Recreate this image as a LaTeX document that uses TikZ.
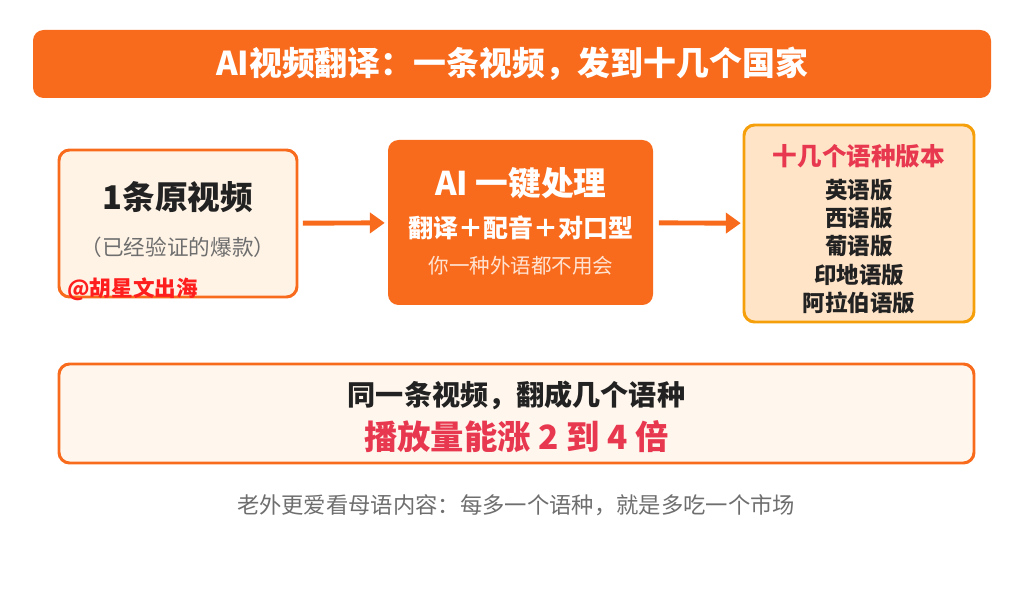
\documentclass[tikz,border=0pt]{standalone}
\usepackage{fontspec}
\setmainfont{Noto Sans CJK SC}
\usepackage{xcolor}
\usetikzlibrary{arrows.meta,positioning}
\definecolor{accent}{HTML}{F96B1C}
\definecolor{creamlight}{HTML}{FFF3E6}
\definecolor{creambottom}{HTML}{FFF7EE}
\definecolor{peach}{HTML}{FFE4C8}
\definecolor{amber}{HTML}{F5A00A}
\definecolor{hotred}{HTML}{E8384F}
\definecolor{markred}{HTML}{FF1E1E}
\definecolor{inkdark}{HTML}{222222}
\definecolor{inkgray}{HTML}{6E6E6E}
\definecolor{softwhite}{HTML}{FFE3D2}

\begin{document}
\begin{tikzpicture}[>=Stealth,
  card/.style={rounded corners=6pt, line width=1.7pt, inner sep=0pt},
  flow/.style={accent, line width=2.8pt, shorten <=2.5pt, shorten >=1pt,
               -{Triangle[length=8.5pt,width=11.5pt]}},
  fs/.style={font=\fontsize{#1}{#1}\selectfont},
  fb/.style={font=\fontsize{#1}{#1}\selectfont\bfseries}]
  \useasboundingbox (0,0) rectangle (20.48,-11.9);

  % title bar
  \node[card, fill=accent, minimum width=19.16cm, minimum height=1.36cm] (bar) at (10.24,-1.28) {};
  \node[fb=18.7, text=white] (bartxt) at (bar) {AI视频翻译：一条视频，发到十几个国家};

  % three steps
  \node[card, draw=accent, fill=creamlight, minimum width=4.76cm, minimum height=2.94cm] (src) at (3.56,-4.47) {};
  \node[card, fill=accent, minimum width=5.3cm, minimum height=3.3cm] (proc) at (10.41,-4.45) {};
  \node[card, draw=amber, fill=peach, minimum width=4.6cm, minimum height=3.94cm] (out) at (17.18,-4.47) {};

  \node[fb=18.6, text=inkdark] (srctitle) at (3.56,-3.94) {1条原视频};
  \node[fs=12.3, text=inkgray] (srcnote) at (3.56,-4.94) {（已经验证的爆款）};
  \node[fb=12.3, text=markred, anchor=west, inner sep=0pt] (mark) at (1.34,-5.78) {@胡星文出海};

  \node[fb=18.6, text=white] (proctitle) at (10.42,-3.66) {AI 一键处理};
  \node[fb=14.2, text=white] (procsteps) at (10.42,-4.56) {翻译＋配音＋对口型};
  \node[fs=11.7, text=softwhite] (procnote) at (10.42,-5.32) {你一种外语都不用会};

  \node[fb=14, text=hotred] (outtitle) at (17.18,-3.12) {十几个语种版本};
  \foreach \lang [count=\i] in {英语版,西语版,葡语版,印地语版,阿拉伯语版}
    \node[fb=12.8, text=inkdark] (lang\i) at (17.18,-3.8-0.565*\i+0.565) {\lang};

  \draw[flow] (src) -- (proc);
  \draw[flow] (proc) -- (out);

  % result
  \node[card, draw=accent, fill=creambottom, minimum width=18.3cm, minimum height=1.98cm] (gain) at (10.33,-8.27) {};
  \node[fb=16, text=inkdark] (gainline) at (10.33,-7.9) {同一条视频，翻成几个语种};
  \node[fb=19, text=hotred] (gainnum) at (10.33,-8.74) {播放量能涨 2 到 4 倍};

  \node[fs=12.7, text=inkgray] (foot) at (10.32,-10.1) {老外更爱看母语内容：每多一个语种，就是多吃一个市场};
\end{tikzpicture}
\end{document}
